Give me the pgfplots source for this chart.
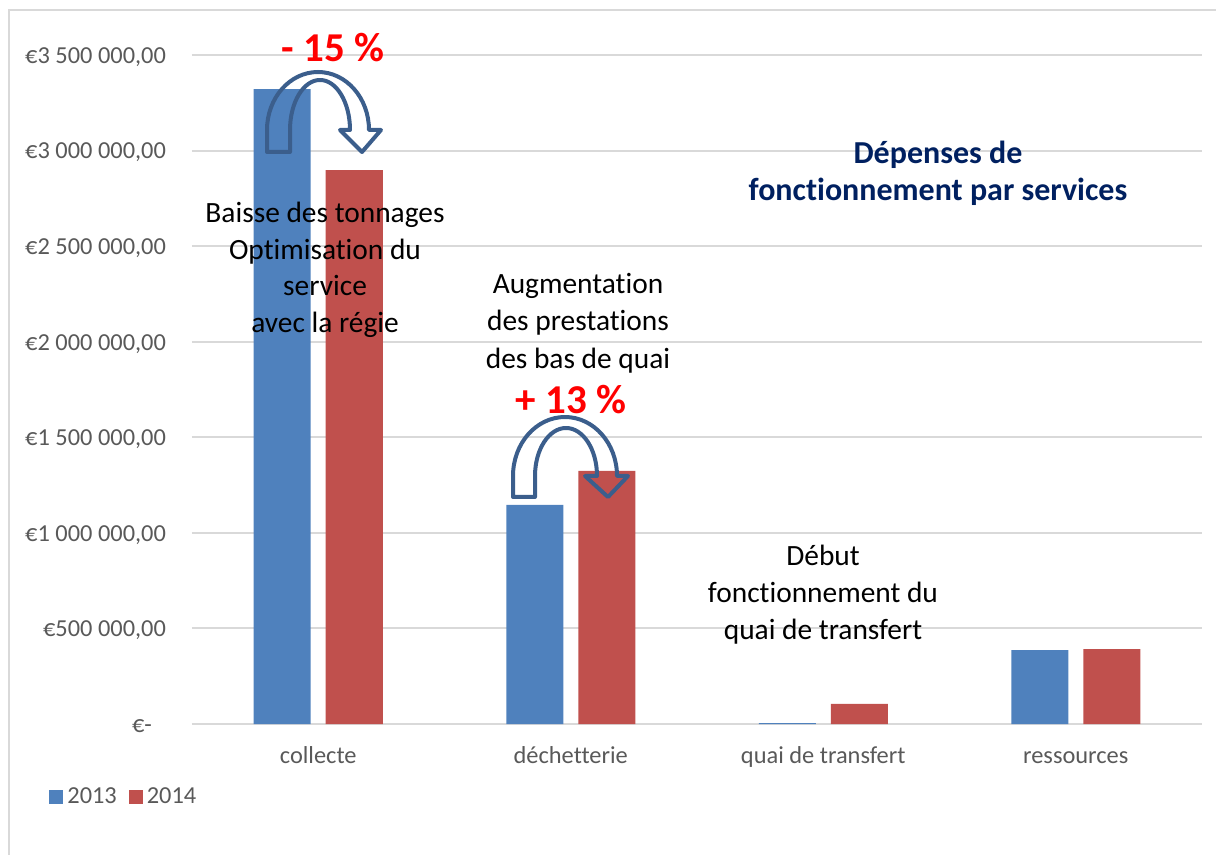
\documentclass[border=0pt]{standalone}
\usepackage{pgfplots}
\pgfplotsset{compat=1.18}
\usepackage{fontspec}
\setmainfont{Carlito}[Ligatures=NoCommon]
\definecolor{bar13}{HTML}{4F81BD}
\definecolor{bar14}{HTML}{C0504D}
\definecolor{gridgray}{HTML}{D9D9D9}
\definecolor{tickgray}{HTML}{595959}
\definecolor{annred}{HTML}{FF0000}
\definecolor{arrowblue}{HTML}{3B5E8C}
\definecolor{navy}{HTML}{002060}

\begin{document}
\begin{tikzpicture}
\begin{axis}[
    at={(96pt,-362pt)}, anchor=south west,
    scale only axis, width=505pt, height=334.5pt,
    xmin=-0.5, xmax=3.5, ymin=0, ymax=3500000,
    ybar=7.5pt, bar width=28.5pt,
    axis line style={draw=none},
    major tick length=0pt,
    ymajorgrids, grid style={draw=gridgray, line width=1pt},
    scaled y ticks=false,
    xtick={0,1,2,3},
    xticklabels={collecte, déchetterie, quai de transfert, ressources},
    ytick={0,500000,1000000,1500000,2000000,2500000,3000000,3500000},
    yticklabels={{€-\kern7pt}, {€500 000,00}, {€1 000 000,00}, {€1 500 000,00},
                 {€2 000 000,00}, {€2 500 000,00}, {€3 000 000,00}, {€3 500 000,00}},
    tick label style={font=\fontsize{12.2}{14.5}\selectfont, text=tickgray},
    yticklabel style={anchor=east, xshift=-9.5pt, yshift=-1pt},
    xticklabel style={text height=8.5pt, text depth=2.5pt, yshift=-7.5pt},
    legend style={at={(-0.1416,-0.109)}, anchor=west, draw=none, fill=none,
        font=\fontsize{12.2}{14.5}\selectfont, text=tickgray, inner sep=0pt,
        /tikz/every even column/.append style={column sep=4pt}},
    legend columns=2,
]
\addplot[fill=bar13, draw=none,
    legend image code/.code={\fill[bar13] (0pt,-3.5pt) rectangle (7pt,3.5pt);}]
    coordinates {(0,3322000) (1,1146000) (2,5000) (3,387000)};
\addplot[fill=bar14, draw=none,
    legend image code/.code={\fill[bar14] (0pt,-3.5pt) rectangle (7pt,3.5pt);}]
    coordinates {(0,2898000) (1,1324000) (2,105000) (3,392000)};
\legend{2013, 2014}
\end{axis}

\begin{scope}[x=0.5pt, y=0.5pt]
% frame of the chart area
\draw[gridgray, line width=0.75pt] (9,-855) -- (9,-10) -- (1216,-10);

% u-turn arrows
\draw[arrowblue, line width=2pt, line join=round]
    (267,-152) -- (267,-130) arc[start angle=180, end angle=0, x radius=51, y radius=58]
    -- (381,-130) -- (362,-152) -- (340,-130) -- (350,-130)
    arc[start angle=0, end angle=180, x radius=30, y radius=50]
    -- (290,-152) -- cycle;
\draw[arrowblue, line width=2pt, line join=round]
    (513,-497) -- (513,-476) arc[start angle=180, end angle=0, x radius=52, y radius=59]
    -- (628,-476) -- (608,-497) -- (585,-476) -- (597,-476)
    arc[start angle=0, end angle=180, x radius=31, y radius=48]
    -- (535,-497) -- cycle;

% percentages
\node[font=\fontsize{20.5}{24}\selectfont\bfseries, text=annred] at (333,-48) {- 15 \%};
\node[font=\fontsize{20.5}{24}\selectfont\bfseries, text=annred] at (571,-400) {+ 13 \%};

% comments
\node[align=center, font=\fontsize{14.7}{18.25}\selectfont] at (325,-270)
    {Baisse des tonnages\\Optimisation du\\service\\avec la régie};
\node[align=center, font=\fontsize{14.7}{18.75}\selectfont] at (578,-323)
    {Augmentation\\des prestations\\des bas de quai};
\node[align=center, font=\fontsize{14.7}{18.5}\selectfont] at (823,-595)
    {Début\\fonctionnement du\\quai de transfert};
\node[align=center, font=\fontsize{16}{18.5}\selectfont\bfseries, text=navy] at (938,-173)
    {Dépenses de\\fonctionnement par services};
\end{scope}

\pgfresetboundingbox
\path (0pt,0pt) rectangle (608pt,-427.5pt);
\end{tikzpicture}
\end{document}
